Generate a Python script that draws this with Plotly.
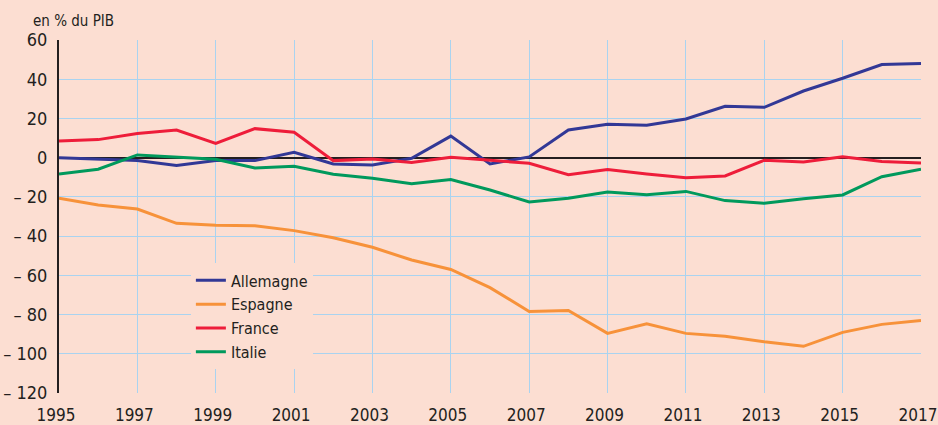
import plotly.graph_objects as go

years = list(range(1995, 2018))
allemagne = [0, -0.8, -1.5, -4, -1.5, -1.5, 2.7, -3.2, -3.7, -0.3, 11, -3.2, 0.4, 14.1, 17, 16.5, 19.7, 26.2, 25.7, 34, 40.5, 47.5, 48]
espagne = [-20.7, -24.1, -26.2, -33.5, -34.5, -34.7, -37.2, -40.8, -45.7, -52.2, -57, -66.3, -78.4, -77.9, -89.6, -84.7, -89.6, -91.1, -93.9, -96.2, -89.1, -85, -83]
france = [8.5, 9.2, 12.3, 14.1, 7.3, 14.8, 13, -1.5, -0.7, -2.4, 0.2, -1.2, -2.9, -8.7, -6.1, -8.3, -10.2, -9.3, -1.3, -2.2, 0.4, -1.9, -2.7]
italie = [-8.3, -5.9, 1.4, 0.2, -0.8, -5.3, -4.4, -8.5, -10.5, -13.3, -11.2, -16.5, -22.6, -20.7, -17.5, -18.9, -17.2, -21.9, -23.3, -20.9, -19, -9.7, -5.9]

series_names = ["Allemagne", "Espagne", "France", "Italie"]
series_colors = ["#323896", "#F7923A", "#EE1D3A", "#00995C"]

x_ticks = list(range(1995, 2018, 2))
y_ticks = [60, 40, 20, 0, -20, -40, -60, -80, -100, -120]
y_ticktext = ["60", "40", "20", "0", "– 20", "– 40", "– 60", "– 80", "– 100", "– 120"]

BG = "#FCDED2"
GRID = "#A9D3F0"
FONT = "DejaVu Sans Condensed, Liberation Sans Narrow, Liberation Sans, Arial, sans-serif"
TXT = "#231F20"

fig = go.Figure()
for name, vals, col in zip(series_names, [allemagne, espagne, france, italie], series_colors):
    fig.add_trace(go.Scatter(x=years, y=vals, mode="lines", name=name,
                             line=dict(color=col, width=3)))

fig.update_layout(
    width=938, height=425,
    paper_bgcolor=BG, plot_bgcolor=BG,
    margin=dict(l=59, r=17, t=40, b=32, autoexpand=False),
    font=dict(family=FONT, color=TXT, size=18),
    showlegend=True,
    legend=dict(x=0.153, y=0.367, xanchor="left", yanchor="top",
                bgcolor=BG, borderwidth=0, font=dict(size=16, color=TXT),
                itemwidth=30, tracegroupgap=0),
    xaxis=dict(range=[1995, 2017], tickvals=x_ticks, ticktext=[str(v) for v in x_ticks],
               showgrid=True, gridcolor=GRID, gridwidth=1.3, zeroline=False,
               showline=False, ticks="", ticklabelstandoff=10, automargin=False,
               ticklabeloverflow="allow", ticklabelshift=-3,
               tickfont=dict(size=17, color=TXT)),
    yaxis=dict(range=[-120, 60], tickvals=y_ticks, ticktext=y_ticktext,
               showgrid=True, gridcolor=GRID, gridwidth=1.3,
               zeroline=True, zerolinecolor="#231F20", zerolinewidth=1.6,
               showline=True, linecolor="#231F20", linewidth=2.2, ticks="",
               ticklabelstandoff=6, automargin=False,
               tickfont=dict(size=18, color=TXT)),
    annotations=[dict(text="en % du PIB", xref="paper", yref="paper",
                      x=-0.032, y=1.022, xanchor="left", yanchor="bottom",
                      showarrow=False, font=dict(size=15, color=TXT))],
)

fig.write_html("out.html", config={"displayModeBar": False},
               post_script="document.body.style.margin='0';document.body.style.padding='0';document.body.style.overflow='hidden';")
